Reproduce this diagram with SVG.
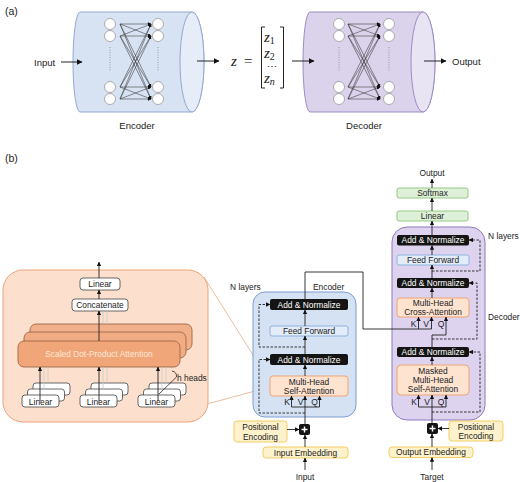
<svg xmlns="http://www.w3.org/2000/svg" width="520" height="482" viewBox="0 0 520 482">
<defs>
<style>
text{font-family:"Liberation Sans",Arial,sans-serif;fill:#222}
.lbl{font-size:9.5px}
.bt{font-size:8.4px;text-anchor:middle;dominant-baseline:central}
.wt{fill:#fff}
.blk{fill:#141414}
.ff{fill:#e3edfa;stroke:#86acdc;stroke-width:0.9}
.or{fill:#fde3d0;stroke:#ef9d66;stroke-width:0.9}
.yl{fill:#fdf2cc;stroke:#f0c955;stroke-width:0.9}
.gr{fill:#dff0d8;stroke:#8cc47a;stroke-width:0.9}
.wb{fill:#fff;stroke:#444;stroke-width:0.8}
.ln{fill:none;stroke:#222;stroke-width:0.9}
.ar{fill:none;stroke:#222;stroke-width:0.9;marker-end:url(#ah)}
.ds{fill:none;stroke:#222;stroke-width:0.9;stroke-dasharray:2.5 1.5}
.dsa{fill:none;stroke:#222;stroke-width:0.9;stroke-dasharray:2.5 1.5;marker-end:url(#ah)}
.gh{stroke:#c9c9c9;stroke-width:0.8}
.nn{stroke:#333;stroke-width:0.55;marker-end:url(#sah)}
.node{fill:#fff;stroke:#9a9a9a;stroke-width:0.8}
.dot{stroke:#888;stroke-width:0.8;stroke-dasharray:1 1.5}
.kvq{font-size:8.5px;text-anchor:middle}
.mz{font-family:"Liberation Serif",serif;font-size:15px;font-style:italic}
.ms{font-style:normal;font-size:10px}
</style>
<marker id="ah" viewBox="0 0 6 6" refX="5.5" refY="3" markerWidth="4.5" markerHeight="4.5" markerUnits="userSpaceOnUse" orient="auto"><path d="M0,0 L6,3 L0,6 Z" fill="#111"/></marker>
<marker id="bah" viewBox="0 0 6 6" refX="5.5" refY="3" markerWidth="6" markerHeight="6" markerUnits="userSpaceOnUse" orient="auto"><path d="M0,0 L6,3 L0,6 Z" fill="#111"/></marker>
<marker id="sah" viewBox="0 0 6 6" refX="5.5" refY="3" markerWidth="3.5" markerHeight="3.5" markerUnits="userSpaceOnUse" orient="auto"><path d="M0,0 L6,3 L0,6 Z" fill="#111"/></marker>
</defs>
<rect width="520" height="482" fill="#fff"/>

<!-- (a) -->
<text x="5" y="15" style="font-size:10.5px">(a)</text>
<text x="5" y="162" style="font-size:10.5px">(b)</text>

<g id="a-input">
<text x="34" y="65.5" class="lbl">Input</text>
</g>

<g id="a-encoder">
<path d="M80,12 H192 A12,50 0 0 1 192,112 H80 A7,50 0 0 1 80,12 Z" fill="#d7e2f3" stroke="#93a9cf" stroke-width="1"/>
<ellipse cx="192" cy="62" rx="12" ry="50" fill="#e6edf8" stroke="#93a9cf" stroke-width="1"/>
<g>
<circle class="node" cx="110" cy="24" r="5.5"/><circle class="node" cx="110" cy="36" r="5.5"/>
<circle class="node" cx="110" cy="87" r="5.5"/><circle class="node" cx="110" cy="99" r="5.5"/>
<circle class="node" cx="158" cy="24" r="5.5"/><circle class="node" cx="158" cy="36" r="5.5"/>
<circle class="node" cx="158" cy="87" r="5.5"/><circle class="node" cx="158" cy="99" r="5.5"/>
<line class="dot" x1="110" y1="47" x2="110" y2="71"/>
<line class="dot" x1="158" y1="47" x2="158" y2="71"/>
<line class="nn" x1="120" y1="24" x2="151" y2="24"/><line class="nn" x1="120" y1="24" x2="151" y2="36"/><line class="nn" x1="120" y1="24" x2="151" y2="87"/><line class="nn" x1="120" y1="24" x2="151" y2="99"/>
<line class="nn" x1="120" y1="36" x2="151" y2="24"/><line class="nn" x1="120" y1="36" x2="151" y2="36"/><line class="nn" x1="120" y1="36" x2="151" y2="87"/><line class="nn" x1="120" y1="36" x2="151" y2="99"/>
<line class="nn" x1="120" y1="87" x2="151" y2="24"/><line class="nn" x1="120" y1="87" x2="151" y2="36"/><line class="nn" x1="120" y1="87" x2="151" y2="87"/><line class="nn" x1="120" y1="87" x2="151" y2="99"/>
<line class="nn" x1="120" y1="99" x2="151" y2="24"/><line class="nn" x1="120" y1="99" x2="151" y2="36"/><line class="nn" x1="120" y1="99" x2="151" y2="87"/><line class="nn" x1="120" y1="99" x2="151" y2="99"/>
</g>
<text x="137" y="129" class="lbl" text-anchor="middle">Encoder</text>
</g>

<g id="a-latent">
<text x="231" y="66" class="mz">z</text>
<text x="244" y="66" style="font-family:'Liberation Serif',serif;font-size:15px">=</text>
<path d="M265,27 H261.5 V88 H265" fill="none" stroke="#222" stroke-width="1"/>
<path d="M280,27 H283.5 V88 H280" fill="none" stroke="#222" stroke-width="1"/>
<text x="264" y="42" class="mz">z<tspan class="ms" dy="2">1</tspan></text>
<text x="264" y="58" class="mz">z<tspan class="ms" dy="2">2</tspan></text>
<text x="272" y="70" style="font-family:'Liberation Serif',serif;font-size:10px" text-anchor="middle">⋯</text>
<text x="264" y="83" class="mz">z<tspan class="ms" style="font-style:italic" dy="2">n</tspan></text>
</g>

<g id="a-decoder">
<path d="M310,12 H423 A12,50 0 0 1 423,112 H310 A7,50 0 0 1 310,12 Z" fill="#dbd2eb" stroke="#9d8bc4" stroke-width="1"/>
<ellipse cx="423" cy="62" rx="12" ry="50" fill="#e9e4f3" stroke="#9d8bc4" stroke-width="1"/>
<g>
<circle class="node" cx="339" cy="24" r="5.5"/><circle class="node" cx="339" cy="36" r="5.5"/>
<circle class="node" cx="339" cy="87" r="5.5"/><circle class="node" cx="339" cy="99" r="5.5"/>
<circle class="node" cx="389" cy="24" r="5.5"/><circle class="node" cx="389" cy="36" r="5.5"/>
<circle class="node" cx="389" cy="87" r="5.5"/><circle class="node" cx="389" cy="99" r="5.5"/>
<line class="dot" x1="339" y1="47" x2="339" y2="71"/>
<line class="dot" x1="389" y1="47" x2="389" y2="71"/>
<line class="nn" x1="348" y1="24" x2="380" y2="24"/><line class="nn" x1="348" y1="24" x2="380" y2="36"/><line class="nn" x1="348" y1="24" x2="380" y2="87"/><line class="nn" x1="348" y1="24" x2="380" y2="99"/>
<line class="nn" x1="348" y1="36" x2="380" y2="24"/><line class="nn" x1="348" y1="36" x2="380" y2="36"/><line class="nn" x1="348" y1="36" x2="380" y2="87"/><line class="nn" x1="348" y1="36" x2="380" y2="99"/>
<line class="nn" x1="348" y1="87" x2="380" y2="24"/><line class="nn" x1="348" y1="87" x2="380" y2="36"/><line class="nn" x1="348" y1="87" x2="380" y2="87"/><line class="nn" x1="348" y1="87" x2="380" y2="99"/>
<line class="nn" x1="348" y1="99" x2="380" y2="24"/><line class="nn" x1="348" y1="99" x2="380" y2="36"/><line class="nn" x1="348" y1="99" x2="380" y2="87"/><line class="nn" x1="348" y1="99" x2="380" y2="99"/>
</g>
<text x="364" y="129" class="lbl" text-anchor="middle">Decoder</text>
</g>

<g id="a-output">
<text x="452" y="65" class="lbl">Output</text>
</g>

<g id="a-connectors" fill="none" stroke="#222" stroke-width="1">
<line x1="61" y1="62" x2="82" y2="62" marker-end="url(#bah)"/>
<line x1="197" y1="61" x2="219" y2="61" marker-end="url(#bah)"/>
<line x1="292" y1="61" x2="314" y2="61" marker-end="url(#bah)"/>
<line x1="424" y1="61" x2="446" y2="61" marker-end="url(#bah)"/>
</g>

<!-- (b) multi-head attention detail -->
<g id="mha-panel">
<line x1="204" y1="277" x2="270" y2="382" stroke="#eab594" stroke-width="0.9"/>
<line x1="207" y1="404" x2="270" y2="387" stroke="#eab594" stroke-width="0.9"/>
<rect x="3" y="270" width="205" height="152" rx="20" fill="#fcdfcc" stroke="#eaa579" stroke-width="1"/>
</g>
<g id="mha-linear-top">
<rect class="wb" x="80" y="278" width="40" height="12" rx="3"/>
<text class="bt" x="100" y="284">Linear</text>
</g>
<g id="mha-concat">
<rect class="wb" x="72" y="299" width="56" height="12" rx="3"/>
<text class="bt" x="100" y="305">Concatenate</text>
</g>
<g id="mha-sdpa">
<rect x="30" y="324" width="162" height="26" rx="6" fill="#f2b08a" stroke="#9c6645" stroke-width="0.9"/>
<rect x="24" y="332" width="162" height="26" rx="6" fill="#f2ac84" stroke="#9c6645" stroke-width="0.9"/>
<rect x="18" y="341" width="162" height="26" rx="6" fill="#f0a679" stroke="#9c6645" stroke-width="0.9"/>
<text class="bt" x="99" y="354" style="fill:#fde6d6">Scaled Dot-Product Attention</text>
</g>
<g id="mha-linear-q">
<rect class="wb" x="33" y="383" width="37" height="12" rx="3"/>
<rect class="wb" x="27.5" y="389" width="37" height="12" rx="3"/>
<rect class="wb" x="22" y="395" width="37" height="12" rx="3"/>
<text class="bt" x="40.5" y="401.5">Linear</text>
</g>
<g id="mha-linear-k">
<rect class="wb" x="91" y="383" width="37" height="12" rx="3"/>
<rect class="wb" x="85.5" y="389" width="37" height="12" rx="3"/>
<rect class="wb" x="80" y="395" width="37" height="12" rx="3"/>
<text class="bt" x="98.5" y="401.5">Linear</text>
</g>
<g id="mha-linear-v">
<rect class="wb" x="149" y="383" width="37" height="12" rx="3"/>
<rect class="wb" x="143.5" y="389" width="37" height="12" rx="3"/>
<rect class="wb" x="138" y="395" width="37" height="12" rx="3"/>
<text class="bt" x="156.5" y="401.5">Linear</text>
</g>
<g id="mha-heads-label">
<path d="M172,371 Q177,372 176.5,377 L159,394" fill="none" stroke="#222" stroke-width="0.8"/>
<text x="177" y="381" style="font-size:8.4px">h heads</text>
</g>

<!-- Encoder block -->
<g id="enc-block">
<rect x="253" y="292" width="103" height="125" rx="12" fill="#d5e2f4" stroke="#7c9dd1" stroke-width="1"/>
<text x="230" y="290" style="font-size:8.4px">N layers</text>
<text x="313" y="290" style="font-size:8.4px">Encoder</text>
</g>
<g id="enc-addnorm2"><rect class="blk" x="270" y="299" width="78" height="11" rx="2"/><text class="bt wt" x="309" y="304.5">Add &amp; Normalize</text></g>
<g id="enc-ff"><rect class="ff" x="270" y="326" width="78" height="10" rx="2"/><text class="bt" x="309" y="331">Feed Forward</text></g>
<g id="enc-addnorm1"><rect class="blk" x="270" y="354" width="78" height="11" rx="2"/><text class="bt wt" x="309" y="359.5">Add &amp; Normalize</text></g>
<g id="enc-mhsa"><rect class="or" x="270" y="376" width="78" height="20" rx="3"/><text class="bt" x="309" y="381.5">Multi-Head</text><text class="bt" x="309" y="390.5">Self-Attention</text></g>
<g id="enc-kvq"><text class="kvq" x="287" y="405">K</text><text class="kvq" x="300.5" y="405">V</text><text class="kvq" x="314.5" y="405">Q</text></g>
<g id="enc-plus"><rect class="blk" x="299" y="424" width="11" height="11" rx="2"/><path d="M304.5,426.5 V432.5 M301.5,429.5 H307.5" stroke="#fff" stroke-width="1.4"/></g>
<g id="enc-posenc"><rect class="yl" x="234" y="421" width="53" height="21" rx="3"/><text class="bt" x="260.5" y="427">Positional</text><text class="bt" x="260.5" y="436.5">Encoding</text></g>
<g id="enc-embed"><rect class="yl" x="263" y="447" width="85" height="11" rx="3"/><text class="bt" x="305.5" y="452.5">Input Embedding</text></g>
<g id="enc-input"><text class="bt" x="305" y="477">Input</text></g>

<!-- Decoder block -->
<g id="dec-block">
<rect x="392" y="227" width="93" height="193" rx="15" fill="#ddd3ee" stroke="#8f79c0" stroke-width="1"/>
<text x="488" y="239" style="font-size:8.4px">N layers</text>
<text x="488" y="320" style="font-size:8.4px">Decoder</text>
</g>
<g id="dec-output"><text class="bt" x="432" y="173">Output</text></g>
<g id="dec-softmax"><rect class="gr" x="397" y="188" width="71" height="10" rx="2"/><text class="bt" x="432.5" y="193">Softmax</text></g>
<g id="dec-linear"><rect class="gr" x="397" y="211" width="71" height="10" rx="2"/><text class="bt" x="432.5" y="216">Linear</text></g>
<g id="dec-addnorm3"><rect class="blk" x="397" y="235" width="72" height="10.5" rx="2"/><text class="bt wt" x="433" y="240.2">Add &amp; Normalize</text></g>
<g id="dec-ff"><rect class="ff" x="397" y="255" width="72" height="10" rx="2"/><text class="bt" x="433" y="260">Feed Forward</text></g>
<g id="dec-addnorm2"><rect class="blk" x="397" y="278" width="72" height="10" rx="2"/><text class="bt wt" x="433" y="283">Add &amp; Normalize</text></g>
<g id="dec-mhca"><rect class="or" x="397" y="298" width="72" height="19" rx="3"/><text class="bt" x="433" y="303">Multi-Head</text><text class="bt" x="433" y="312">Cross-Attention</text></g>
<g id="dec-kvq2"><text class="kvq" x="413.5" y="327">K</text><text class="kvq" x="426" y="327">V</text><text class="kvq" x="441" y="327">Q</text></g>
<g id="dec-addnorm1"><rect class="blk" x="397" y="347" width="72" height="10" rx="2"/><text class="bt wt" x="433" y="352">Add &amp; Normalize</text></g>
<g id="dec-mmhsa"><rect class="or" x="397" y="365" width="72" height="30" rx="4"/><text class="bt" x="433" y="371">Masked</text><text class="bt" x="433" y="380">Multi-Head</text><text class="bt" x="433" y="389">Self-Attention</text></g>
<g id="dec-kvq1"><text class="kvq" x="414" y="405">K</text><text class="kvq" x="427" y="405">V</text><text class="kvq" x="441" y="405">Q</text></g>
<g id="dec-plus"><rect class="blk" x="427" y="423" width="11" height="11" rx="2"/><path d="M432.5,425.5 V431.5 M429.5,428.5 H435.5" stroke="#fff" stroke-width="1.4"/></g>
<g id="dec-posenc"><rect class="yl" x="449" y="421" width="54" height="20" rx="3"/><text class="bt" x="476" y="426.5">Positional</text><text class="bt" x="476" y="435.5">Encoding</text></g>
<g id="dec-embed"><rect class="yl" x="389" y="447" width="84" height="10.5" rx="3"/><text class="bt" x="431" y="452.3">Output Embedding</text></g>
<g id="dec-target"><text class="bt" x="432" y="477">Target</text></g>

<!-- connectors (b) -->
<g id="connectors">
<line class="gh" x1="103" y1="324" x2="103" y2="311"/><line class="gh" x1="107" y1="324" x2="107" y2="311"/>
<line class="ar" x1="99" y1="341" x2="99" y2="311"/>
<line class="ar" x1="99" y1="299" x2="99" y2="290"/>
<line class="ar" x1="99" y1="278" x2="99" y2="262"/>
<line class="gh" x1="44" y1="389" x2="44" y2="367"/><line class="gh" x1="48" y1="383" x2="48" y2="367"/>
<line class="gh" x1="103" y1="389" x2="103" y2="367"/><line class="gh" x1="107" y1="383" x2="107" y2="367"/>
<line class="gh" x1="162" y1="389" x2="162" y2="367"/><line class="gh" x1="166" y1="383" x2="166" y2="367"/>
<line class="ar" x1="40" y1="401" x2="40" y2="367"/>
<line class="ar" x1="99" y1="401" x2="99" y2="367"/>
<line class="ar" x1="158" y1="401" x2="158" y2="367"/>

<line class="ar" x1="305" y1="470" x2="305" y2="458"/>
<line class="ar" x1="305" y1="447" x2="305" y2="435"/>
<line class="ar" x1="287" y1="429.5" x2="299" y2="429.5"/>
<path class="ln" d="M305,424 V407 M291.5,407 H319.5"/>
<line class="ar" x1="291.5" y1="407" x2="291.5" y2="396"/>
<line class="ar" x1="305" y1="407" x2="305" y2="396"/>
<line class="ar" x1="319.5" y1="407" x2="319.5" y2="396"/>
<path class="dsa" d="M305,413 H259 V359.5 H270"/>
<line class="ar" x1="305" y1="376" x2="305" y2="365"/>
<line class="ar" x1="305" y1="354" x2="305" y2="336"/>
<path class="dsa" d="M305,347 H259 V304.5 H270"/>
<line class="ar" x1="305" y1="326" x2="305" y2="310"/>
<path class="ln" d="M305,299 V272 H363 V329 H431.5"/>

<line class="ar" x1="432" y1="470" x2="432" y2="457.5"/>
<line class="ar" x1="432" y1="447" x2="432" y2="434"/>
<line class="ar" x1="449" y1="428.5" x2="438" y2="428.5"/>
<path class="ln" d="M432,423 V407 M418.5,407 H446"/>
<line class="ar" x1="418.5" y1="407" x2="418.5" y2="395"/>
<line class="ar" x1="432" y1="407" x2="432" y2="395"/>
<line class="ar" x1="446" y1="407" x2="446" y2="395"/>
<path class="dsa" d="M432,412 H480 V352 H469"/>
<line class="ar" x1="432" y1="365" x2="432" y2="357"/>
<path class="ln" d="M432,347 V335 H446"/>
<line class="ar" x1="446" y1="335" x2="446" y2="317"/>
<line class="ar" x1="418.5" y1="329" x2="418.5" y2="317"/>
<line class="ar" x1="431.5" y1="329" x2="431.5" y2="317"/>
<path class="dsa" d="M432,339 H477 V283 H469"/>
<line class="ar" x1="432" y1="298" x2="432" y2="288"/>
<line class="ar" x1="432" y1="278" x2="432" y2="265"/>
<path class="dsa" d="M432,271 H480 V240 H469"/>
<line class="ar" x1="432" y1="255" x2="432" y2="245.5"/>
<line class="ar" x1="432" y1="235" x2="432" y2="221"/>
<line class="ar" x1="432" y1="211" x2="432" y2="198"/>
<line class="ar" x1="432" y1="188" x2="432" y2="179"/>
</g>
</svg>
